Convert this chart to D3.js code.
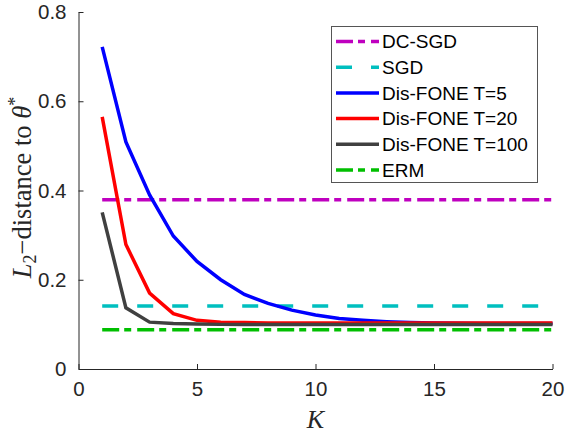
<!DOCTYPE html>
<html lang="en">

<head>
    <meta charset="UTF-8">
    <title>L2 distance vs K</title>
    <script src="https://cdn.jsdelivr.net/npm/d3@7"></script>
    <style>
        body {
            margin: 0;
            background: white;
        }

        .tick text {
            font-family: Arial, "Liberation Sans", Helvetica, sans-serif;
            font-size: 20.5px;
            fill: #262626;
        }

        .legend text {
            font-family: Arial, "Liberation Sans", Helvetica, sans-serif;
            font-size: 19px;
            fill: #000;
        }

        .math {
            font-family: "Liberation Serif", "Times New Roman", serif;
            fill: #262626;
        }
    </style>
</head>

<body>
    <div id="chart"></div>
    <script>
        // values
        const K = [1, 2, 3, 4, 5, 6, 7, 8, 9, 10, 11, 12, 13, 14, 15, 16, 17, 18, 19, 20];
        const fone5 = [0.722, 0.509, 0.390, 0.298, 0.241, 0.200, 0.167, 0.147, 0.132, 0.121,
            0.113, 0.109, 0.106, 0.104, 0.103, 0.1025, 0.102, 0.102, 0.102, 0.102];
        const fone20 = [0.565, 0.279, 0.170, 0.124, 0.109, 0.105, 0.104, 0.103, 0.103, 0.103,
            0.103, 0.103, 0.103, 0.103, 0.103, 0.103, 0.103, 0.103, 0.103, 0.103];
        const fone100 = [0.351, 0.137, 0.105, 0.102, 0.101, 0.100, 0.100, 0.100, 0.100, 0.100,
            0.100, 0.100, 0.100, 0.100, 0.100, 0.100, 0.100, 0.100, 0.100, 0.100];
        const dcsgd = 0.379;
        const sgd = 0.141;
        const erm = 0.088;
        const xTicks = [0, 5, 10, 15, 20];
        const yTicks = [0, 0.2, 0.4, 0.6, 0.8];

        const width = 566, height = 434;
        const margin = { left: 78.5, right: 13.5, top: 12, bottom: 65 };

        const svg = d3.select("#chart").append("svg")
            .attr("width", width)
            .attr("height", height);

        const x = d3.scaleLinear().domain([0, 20]).range([margin.left, width - margin.right]);
        const y = d3.scaleLinear().domain([0, 0.8]).range([height - margin.bottom, margin.top]);

        const flat = v => K.map(() => v);

        const series = [
            { name: "DC-SGD", vals: flat(dcsgd), color: "#bf00bf", dash: "17,5,7,6" },
            { name: "SGD", vals: flat(sgd), color: "#00bfbf", dash: "16,19" },
            { name: "Dis-FONE T=5", vals: fone5, color: "#0000ff", dash: null },
            { name: "Dis-FONE T=20", vals: fone20, color: "#ff0000", dash: null },
            { name: "Dis-FONE T=100", vals: fone100, color: "#404040", dash: null },
            { name: "ERM", vals: flat(erm), color: "#00bf00", dash: "17,5,7,6" }
        ];

        const line = d3.line()
            .x((d, i) => x(K[i]))
            .y(d => y(d));

        svg.append("g")
            .selectAll("path")
            .data(series)
            .join("path")
            .attr("fill", "none")
            .attr("stroke", d => d.color)
            .attr("stroke-width", 3.5)
            .attr("stroke-dasharray", d => d.dash)
            .attr("d", d => line(d.vals));

        // axes, MATLAB style: ticks inside, no box
        const xAxis = svg.append("g")
            .attr("transform", `translate(0,${y(0)})`)
            .call(d3.axisBottom(x).tickValues(xTicks).tickSizeInner(-5).tickSizeOuter(0).tickPadding(12));
        const yAxis = svg.append("g")
            .attr("transform", `translate(${x(0)},0)`)
            .call(d3.axisLeft(y).tickValues(yTicks).tickFormat(d => d === 0 ? "0" : d3.format(".1f")(d))
                .tickSizeInner(-5).tickSizeOuter(0).tickPadding(12));
        [xAxis, yAxis].forEach(a => {
            a.select(".domain").attr("stroke", "#262626");
            a.selectAll(".tick line").attr("stroke", "#262626");
        });

        // axis labels
        svg.append("text")
            .attr("class", "math")
            .attr("x", x(10))
            .attr("y", 428)
            .attr("text-anchor", "middle")
            .attr("font-size", 26)
            .attr("font-style", "italic")
            .text("K");

        const yl = svg.append("text")
            .attr("class", "math")
            .attr("transform", `translate(31,${(y(0) + y(0.8)) / 2 - 3}) rotate(-90)`)
            .attr("text-anchor", "middle")
            .attr("font-size", 26.5);
        yl.append("tspan").attr("font-style", "italic").text("L");
        yl.append("tspan").attr("font-size", 18).attr("dy", 5).text("2");
        yl.append("tspan").attr("dy", -5).text("\u2212distance to ");
        yl.append("tspan").attr("font-style", "italic").text("\u03b8");
        yl.append("tspan").attr("font-size", 18).attr("dy", -10).text("*");

        // legend
        const lg = svg.append("g").attr("class", "legend");
        lg.append("rect")
            .attr("x", 331.5).attr("y", 26.5)
            .attr("width", 206).attr("height", 156)
            .attr("fill", "white")
            .attr("stroke", "#555")
            .attr("stroke-width", 1);
        const rows = lg.selectAll("g.row")
            .data(series)
            .join("g")
            .attr("class", "row")
            .attr("transform", (d, i) => `translate(336,${41.5 + i * 25.7})`);
        rows.append("line")
            .attr("x1", 0).attr("x2", 43)
            .attr("stroke", d => d.color)
            .attr("stroke-width", 3.5)
            .attr("stroke-dasharray", d => d.dash);
        rows.append("text")
            .attr("x", 46)
            .attr("dy", "0.36em")
            .text(d => d.name);
    </script>
</body>

</html>
